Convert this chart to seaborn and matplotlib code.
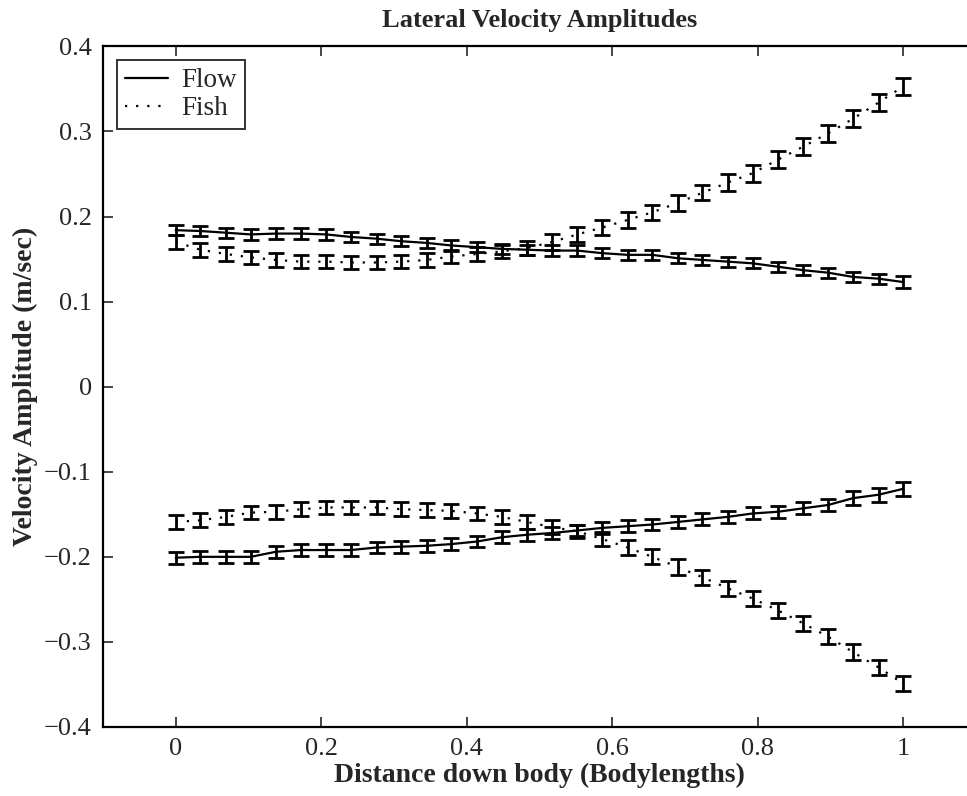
import numpy as np
import pandas as pd
import matplotlib
matplotlib.use("Agg")
import matplotlib.pyplot as plt
import seaborn as sns

# ---- data ----
x_pos = [0.000, 0.034, 0.069, 0.103, 0.138, 0.172, 0.207, 0.241, 0.276, 0.310,
         0.345, 0.379, 0.414, 0.448, 0.483, 0.517, 0.552, 0.586, 0.621, 0.655,
         0.690, 0.724, 0.759, 0.793, 0.828, 0.862, 0.897, 0.931, 0.966, 1.000]

flow_upper = [0.184, 0.183, 0.181, 0.179, 0.180, 0.180, 0.179, 0.176, 0.174, 0.171,
              0.169, 0.166, 0.164, 0.162, 0.161, 0.160, 0.160, 0.157, 0.155, 0.155,
              0.151, 0.149, 0.147, 0.145, 0.141, 0.137, 0.134, 0.129, 0.127, 0.123]
flow_lower = [-0.201, -0.200, -0.200, -0.200, -0.194, -0.192, -0.192, -0.192, -0.189, -0.188,
              -0.187, -0.185, -0.182, -0.177, -0.174, -0.172, -0.169, -0.166, -0.164, -0.162,
              -0.159, -0.156, -0.153, -0.149, -0.147, -0.143, -0.139, -0.131, -0.127, -0.120]
fish_upper = [0.170, 0.161, 0.156, 0.152, 0.149, 0.147, 0.147, 0.146, 0.146, 0.147,
              0.149, 0.153, 0.156, 0.159, 0.163, 0.170, 0.179, 0.187, 0.196, 0.205,
              0.216, 0.228, 0.240, 0.251, 0.267, 0.282, 0.298, 0.315, 0.334, 0.353]
fish_lower = [-0.159, -0.157, -0.153, -0.148, -0.147, -0.144, -0.142, -0.142, -0.142, -0.144,
              -0.145, -0.146, -0.149, -0.153, -0.159, -0.165, -0.170, -0.179, -0.189, -0.200,
              -0.212, -0.224, -0.237, -0.249, -0.263, -0.278, -0.294, -0.312, -0.330, -0.349]

flow_upper_err = [0.006, 0.006, 0.006, 0.006, 0.006, 0.006, 0.006, 0.006, 0.006, 0.006,
                  0.006, 0.006, 0.006, 0.006, 0.006, 0.006, 0.006, 0.006, 0.006, 0.006,
                  0.006, 0.006, 0.006, 0.006, 0.006, 0.006, 0.006, 0.006, 0.006, 0.007]
flow_lower_err = [0.007, 0.007, 0.007, 0.007, 0.007, 0.007, 0.007, 0.007, 0.007, 0.007,
                  0.007, 0.007, 0.007, 0.007, 0.007, 0.007, 0.007, 0.007, 0.007, 0.007,
                  0.007, 0.007, 0.007, 0.007, 0.007, 0.007, 0.007, 0.008, 0.008, 0.008]
fish_upper_err = [0.008, 0.008, 0.008, 0.008, 0.008, 0.008, 0.008, 0.008, 0.008, 0.008,
                  0.008, 0.008, 0.008, 0.008, 0.008, 0.009, 0.009, 0.009, 0.009, 0.009,
                  0.009, 0.009, 0.010, 0.010, 0.010, 0.010, 0.010, 0.010, 0.010, 0.010]
fish_lower_err = [0.008, 0.008, 0.008, 0.008, 0.008, 0.008, 0.008, 0.008, 0.008, 0.008,
                  0.008, 0.008, 0.008, 0.008, 0.008, 0.008, 0.008, 0.008, 0.009, 0.009,
                  0.009, 0.009, 0.009, 0.009, 0.009, 0.009, 0.009, 0.009, 0.009, 0.009]

x_ticks = [0, 0.2, 0.4, 0.6, 0.8, 1.0]
x_ticklabels = ["0", "0.2", "0.4", "0.6", "0.8", "1"]
y_ticks = [-0.4, -0.3, -0.2, -0.1, 0, 0.1, 0.2, 0.3, 0.4]
y_ticklabels = ["\u22120.4", "\u22120.3", "\u22120.2", "\u22120.1", "0", "0.1", "0.2", "0.3", "0.4"]

# ---- build table ----
frames = []
for series, branch, yv, ev in [("Flow", "upper", flow_upper, flow_upper_err),
                               ("Flow", "lower", flow_lower, flow_lower_err),
                               ("Fish", "upper", fish_upper, fish_upper_err),
                               ("Fish", "lower", fish_lower, fish_lower_err)]:
    frames.append(pd.DataFrame({"x": x_pos, "y": yv, "err": ev,
                                "series": series, "branch": branch}))
df = pd.concat(frames, ignore_index=True)

sns.set_style("white")
plt.rcParams["font.family"] = ["Liberation Serif", "DejaVu Serif"]

fig = plt.figure(figsize=(9.67, 7.96), dpi=100)
# right spine lies just beyond the figure edge, as in the (cropped) reference
ax = fig.add_axes([0.1065, 0.0867, 0.9028, 0.855])

sns.lineplot(data=df, x="x", y="y", style="series", units="branch",
             estimator=None, color="black", linewidth=1.6,
             style_order=["Flow", "Fish"],
             dashes={"Flow": "", "Fish": (1, 4)}, ax=ax, sort=False)

for (series, branch), g in df.groupby(["series", "branch"]):
    ax.errorbar(g["x"], g["y"], yerr=g["err"], fmt="none", ecolor="black",
                elinewidth=2.0, capsize=5.5, capthick=2.0, zorder=3)

ax.set_xlim(-0.1, 1.1)
ax.set_ylim(-0.4, 0.4)
ax.set_xticks(x_ticks)
ax.set_xticklabels(x_ticklabels)
ax.set_yticks(y_ticks)
ax.set_yticklabels(y_ticklabels)
ax.tick_params(direction="in", length=7, width=1.2, labelsize=19,
               top=True, right=False, bottom=True, left=True, pad=8)
for s in ax.spines.values():
    s.set_visible(True)
    s.set_color("black")
    s.set_linewidth(1.6)

ax.set_title("Lateral Velocity Amplitudes", fontsize=19, fontweight="bold", pad=14)
ax.set_xlabel("Distance down body (Bodylengths)", fontsize=20, fontweight="bold", labelpad=2)
ax.set_ylabel("Velocity Amplitude (m/sec)", fontsize=20, fontweight="bold", labelpad=4)

leg = ax.legend(loc="upper left", fontsize=19.5, frameon=True, fancybox=False,
                edgecolor="black", handlelength=1.6, borderaxespad=0.5,
                borderpad=0.3, labelspacing=0.12, handletextpad=0.5)
leg.get_frame().set_linewidth(1.4)
for h in leg.get_lines():
    h.set_color("black")
    h.set_linewidth(1.6)

fig.savefig("out.png", dpi=100)
